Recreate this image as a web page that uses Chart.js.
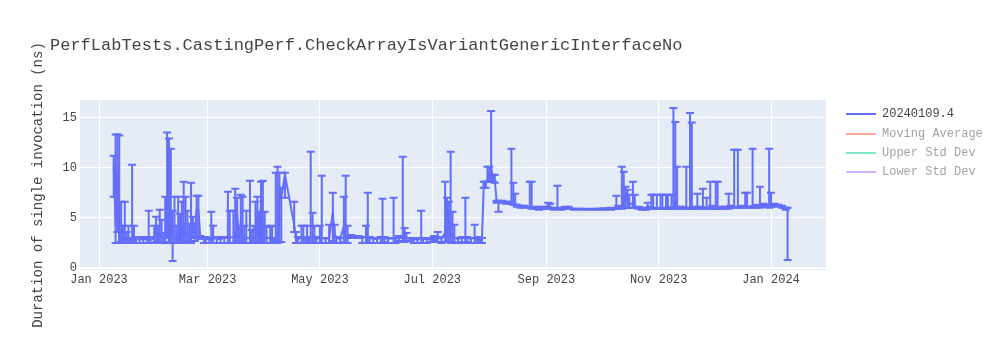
<!DOCTYPE html>
<html>
<head>
<meta charset="utf-8">
<script src="https://cdn.jsdelivr.net/npm/chart.js@4.4.1/dist/chart.umd.min.js"></script>
<style>
  html, body { margin: 0; padding: 0; background: #fff; }
  #wrap { position: relative; width: 1000px; height: 350px; }
  #c { position: absolute; left: 0; top: 0; }
  .mono { font-family: "Courier New", "Liberation Mono", monospace; }
  #title { position: absolute; left: 50px; top: 35px; font-size: 17px; color: #444; white-space: nowrap; line-height: 22px; }
  .lrow { position: absolute; left: 846px; height: 18px; white-space: nowrap; font-size: 12px; line-height: 18px; }
  .lline { position: absolute; left: 0; top: 8px; width: 30px; height: 2px; }
  .ltext { position: absolute; left: 36px; top: 0; }
</style>
</head>
<body>
<div id="wrap">
  <canvas id="c" width="1000" height="350"></canvas>
  <div id="title" class="mono">PerfLabTests.CastingPerf.CheckArrayIsVariantGenericInterfaceNo</div>
  <div id="legend" class="mono"></div>
</div>
<script>
// ---- data ----
const chartTitle = 'PerfLabTests.CastingPerf.CheckArrayIsVariantGenericInterfaceNo';
const yAxisTitle = 'Duration of single invocation (ns)';
const seriesName = '20240109.4';
const legendNames = ['20240109.4', 'Moving Average', 'Upper Std Dev', 'Lower Std Dev'];
const legendColors = ['#636efa', '#EF553B', '#00cc96', '#ab63fa'];
const legendShown = [true, false, false, false];
const xTickDates = ['2023-01-01','2023-03-01','2023-05-01','2023-07-01','2023-09-01','2023-11-01','2024-01-01'];
const xTickLabels = ['Jan 2023','Mar 2023','May 2023','Jul 2023','Sep 2023','Nov 2023','Jan 2024'];
const yTickValues = [0, 5, 10, 15];

const dates = [
 '2023-01-09','2023-01-10','2023-01-11','2023-01-12','2023-01-13','2023-01-14','2023-01-15','2023-01-16','2023-01-17','2023-01-18',
 '2023-01-19','2023-01-20','2023-01-21','2023-01-23','2023-01-25','2023-01-27','2023-01-28','2023-01-29','2023-01-31','2023-02-01',
 '2023-02-02','2023-02-03','2023-02-04','2023-02-05','2023-02-06','2023-02-07','2023-02-08','2023-02-09','2023-02-10','2023-02-11',
 '2023-02-12','2023-02-13','2023-02-14','2023-02-15','2023-02-16','2023-02-17','2023-02-18','2023-02-19','2023-02-20','2023-02-21',
 '2023-02-22','2023-02-23','2023-02-24','2023-02-25','2023-02-27','2023-02-28','2023-03-02','2023-03-03','2023-03-04','2023-03-06',
 '2023-03-08','2023-03-10','2023-03-12','2023-03-13','2023-03-15','2023-03-16','2023-03-17','2023-03-18','2023-03-19','2023-03-20',
 '2023-03-21','2023-03-22','2023-03-24','2023-03-25','2023-03-26','2023-03-27','2023-03-28','2023-03-29','2023-03-30','2023-03-31',
 '2023-04-01','2023-04-02','2023-04-04','2023-04-05','2023-04-06','2023-04-07','2023-04-08','2023-04-09','2023-04-10','2023-04-12',
 '2023-04-17','2023-04-18','2023-04-19','2023-04-21','2023-04-22','2023-04-23','2023-04-24','2023-04-25','2023-04-26','2023-04-27',
 '2023-04-28','2023-04-29','2023-05-01','2023-05-02','2023-05-04','2023-05-06','2023-05-08','2023-05-09','2023-05-10','2023-05-12',
 '2023-05-14','2023-05-15','2023-05-16','2023-05-18','2023-05-20','2023-05-22','2023-05-24','2023-05-26','2023-05-27','2023-05-28',
 '2023-05-30','2023-06-01','2023-06-03','2023-06-04','2023-06-05','2023-06-07','2023-06-10','2023-06-11','2023-06-13','2023-06-15',
 '2023-06-16','2023-06-17','2023-06-19','2023-06-21','2023-06-23','2023-06-25','2023-06-26','2023-06-28','2023-06-30','2023-07-02',
 '2023-07-04','2023-07-06','2023-07-08','2023-07-09','2023-07-10','2023-07-11','2023-07-12','2023-07-13','2023-07-15','2023-07-17',
 '2023-07-19','2023-07-20','2023-07-22','2023-07-24','2023-07-25','2023-07-26','2023-07-27','2023-07-28','2023-07-29','2023-07-30',
 '2023-07-31','2023-08-01','2023-08-02','2023-08-03','2023-08-04','2023-08-05','2023-08-06','2023-08-08','2023-08-10','2023-08-12',
 '2023-08-13','2023-08-14','2023-08-15','2023-08-16','2023-08-18','2023-08-20','2023-08-23','2023-08-24','2023-08-26','2023-08-28',
 '2023-08-30','2023-09-01','2023-09-02','2023-09-03','2023-09-05','2023-09-07','2023-09-09','2023-09-11','2023-09-13','2023-09-16',
 '2023-09-20','2023-09-24','2023-09-28','2023-10-02','2023-10-06','2023-10-09','2023-10-10','2023-10-12','2023-10-13','2023-10-14',
 '2023-10-15','2023-10-16','2023-10-18','2023-10-19','2023-10-21','2023-10-23','2023-10-25','2023-10-26','2023-10-28','2023-10-29',
 '2023-10-31','2023-11-02','2023-11-03','2023-11-05','2023-11-06','2023-11-08','2023-11-09','2023-11-10','2023-11-11','2023-11-12',
 '2023-11-14','2023-11-16','2023-11-18','2023-11-19','2023-11-20','2023-11-22','2023-11-23','2023-11-25','2023-11-27','2023-11-29',
 '2023-11-30','2023-12-02','2023-12-03','2023-12-05','2023-12-07','2023-12-09','2023-12-10','2023-12-12','2023-12-14','2023-12-16',
 '2023-12-18','2023-12-19','2023-12-22','2023-12-24','2023-12-26','2023-12-28','2023-12-29','2023-12-31','2024-01-01','2024-01-03',
 '2024-01-05','2024-01-07','2024-01-09','2024-01-10'
];
const values = [
 10.2,4.2,10.3,3.0,3.5,2.9,3.0,2.8,2.9,2.8,
 3.0,2.9,2.8,2.9,2.8,2.9,3.0,2.8,3.0,3.3,
 2.9,3.4,3.0,2.9,3.2,7.1,3.2,5.7,3.0,3.1,
 2.9,3.1,3.0,3.4,4.2,3.1,3.3,3.6,3.0,4.2,
 3.5,5.8,5.8,3.1,2.9,2.9,2.8,3.0,3.0,2.9,
 2.9,3.0,3.0,3.1,3.0,3.2,5.6,3.0,4.5,3.1,
 2.9,3.0,3.0,3.2,3.0,3.0,5.5,3.0,6.6,3.0,
 3.1,3.0,3.0,2.9,2.8,3.0,3.1,7.9,7.0,9.3,
 4.3,3.0,2.9,3.0,3.0,2.9,3.0,3.0,3.0,3.2,
 3.0,2.9,3.0,3.0,2.9,3.0,5.5,3.4,3.0,2.9,
 4.2,3.0,3.1,3.2,3.1,3.1,3.0,3.1,3.0,3.0,
 2.9,2.9,3.0,3.0,3.0,2.9,3.0,2.9,3.0,3.0,
 3.3,3.0,2.9,2.9,2.8,3.0,2.9,2.9,2.9,3.0,
 3.0,2.9,3.5,5.7,4.8,3.0,3.4,3.0,2.9,3.0,
 3.0,3.0,2.9,3.0,2.8,2.8,2.8,2.8,8.4,8.3,
 8.8,9.5,10.0,9.0,8.7,6.6,6.6,6.6,6.5,6.5,
 6.5,6.4,6.5,6.2,6.1,6.1,6.1,6.0,6.0,5.9,
 6.0,6.0,6.0,6.1,5.9,6.0,5.9,6.0,6.0,5.9,
 5.9,5.85,5.9,5.9,5.9,6.0,6.0,6.1,6.5,7.5,
 7.0,6.3,6.5,6.2,6.0,5.9,5.9,6.2,6.0,6.0,
 6.0,6.0,6.0,6.0,6.0,6.1,6.0,6.5,6.0,6.0,
 6.0,6.0,6.0,6.2,6.0,6.0,6.0,6.1,6.0,6.0,
 6.0,6.0,6.1,6.0,6.0,6.1,6.1,6.1,6.1,6.1,
 6.2,6.1,6.2,6.1,6.2,6.3,6.2,6.2,6.3,6.3,
 6.2,6.1,5.9,5.9
];
const errLow = [
 7.1,2.5,3.6,2.5,2.6,2.5,2.5,2.5,2.5,2.5,
 2.5,2.5,2.5,2.5,2.5,2.5,2.5,2.5,2.5,2.6,
 2.5,2.6,2.5,2.5,2.5,3.0,2.6,2.5,0.7,2.5,
 2.5,2.5,2.5,2.6,2.6,2.5,2.5,2.7,2.5,3.0,
 2.7,3.0,3.0,2.9,2.5,2.5,2.5,2.5,2.5,2.5,
 2.5,2.5,2.5,2.5,2.5,2.5,2.6,2.5,2.6,2.5,
 2.5,2.5,2.5,2.5,2.5,2.5,2.6,2.5,2.6,2.5,
 2.5,2.5,2.5,2.5,2.5,2.5,2.5,2.6,2.6,7.0,
 3.6,2.5,2.5,2.5,2.5,2.5,2.5,2.5,2.5,2.5,
 2.5,2.5,2.5,2.5,2.5,2.5,2.7,2.5,2.5,2.5,
 2.6,2.5,2.5,3.0,3.0,3.0,2.5,2.5,2.5,2.5,
 2.5,2.5,2.5,2.5,2.6,2.5,2.5,2.5,2.7,2.6,
 2.6,2.7,2.7,2.5,2.5,2.5,2.5,2.5,2.6,2.8,
 2.6,2.5,2.6,2.6,2.6,2.5,2.6,2.5,2.5,2.6,
 2.5,2.6,2.5,2.5,2.5,2.5,2.5,2.5,8.0,8.0,
 8.6,8.6,8.6,8.6,8.5,6.5,5.6,6.5,6.4,6.4,
 6.4,6.3,6.3,6.1,6.0,6.0,6.0,5.9,5.9,5.8,
 5.9,5.9,5.9,6.0,5.8,5.9,5.8,5.9,5.9,5.8,
 5.8,5.8,5.8,5.8,5.8,5.9,5.9,5.9,6.0,6.0,
 6.0,6.0,6.0,6.0,5.9,5.8,5.8,5.9,5.9,5.9,
 5.9,5.9,5.9,5.9,5.9,5.9,5.9,6.0,5.9,5.9,
 5.9,5.9,5.9,5.9,5.9,5.9,5.9,5.9,5.9,5.9,
 5.9,5.9,5.9,5.9,5.9,5.9,6.0,6.0,6.0,6.0,
 6.0,6.0,6.0,6.0,6.0,6.1,6.1,6.0,6.1,6.2,
 6.1,6.0,5.8,0.8
];
const errHigh = [
 11.2,13.3,13.3,13.2,6.6,4.2,6.6,3.6,4.2,3.0,
 10.3,4.2,3.1,3.1,3.0,3.1,5.7,3.1,4.2,5.1,
 4.2,5.8,4.8,3.5,7.1,13.5,12.9,11.9,5.7,7.1,
 4.2,7.1,5.4,6.6,8.6,7.1,5.7,4.4,8.5,5.1,
 4.4,7.2,7.2,3.2,3.1,3.1,3.0,5.6,4.2,3.1,
 3.0,3.1,7.6,5.7,5.7,7.9,7.0,3.5,7.3,7.1,
 4.2,5.7,8.7,3.8,4.2,6.6,7.1,5.6,8.6,8.7,
 5.6,4.2,4.1,4.2,3.0,9.5,10.1,9.5,8.0,9.5,
 6.6,3.6,3.1,4.2,4.2,3.1,4.2,3.1,11.6,5.5,
 4.2,3.1,4.2,9.2,3.0,4.3,7.5,4.3,3.1,3.0,
 7.1,9.2,4.2,3.3,3.2,3.2,3.1,4.2,7.5,3.1,
 3.0,3.0,3.1,6.9,3.1,3.0,7.0,3.0,3.2,11.1,
 4.0,3.5,3.0,3.0,3.0,5.7,3.0,3.0,3.0,3.2,
 3.6,3.1,8.6,7.0,6.6,11.6,5.6,4.3,3.0,3.1,
 7.0,3.1,3.0,4.3,3.0,3.1,3.0,3.0,8.6,8.6,
 10.1,10.1,15.65,9.3,9.3,6.7,6.7,6.7,6.6,6.6,
 11.9,8.5,7.4,6.3,6.2,6.2,8.6,8.6,6.1,6.0,
 6.1,6.1,6.5,6.4,6.0,8.2,6.0,6.1,6.1,5.9,
 5.9,5.9,5.9,5.95,6.0,7.2,6.2,10.1,9.6,8.1,
 7.8,7.3,8.6,7.3,6.1,6.0,6.0,6.5,7.3,7.3,
 7.3,7.3,7.3,7.3,7.3,7.3,15.95,14.55,10.1,6.1,
 6.1,10.1,15.45,14.5,6.1,7.4,6.1,7.9,7.0,8.6,
 6.2,8.6,8.6,6.1,6.1,7.4,6.2,11.8,11.8,6.2,
 7.5,7.5,11.9,6.3,8.1,6.4,6.3,11.9,7.5,6.4,
 6.3,6.2,6.0,6.0
];

// ---- build ----
const xs = dates.map(d => Date.parse(d));
const points = xs.map((x, i) => ({ x: x, y: values[i] }));
const xTicks = xTickDates.map(d => Date.parse(d));
const dayMs = 86400000;
const FONT = '"Courier New", "Liberation Mono", monospace';
const LINE = '#636efa';

const plotBg = {
  id: 'plotBg',
  beforeDraw(chart) {
    const { ctx, chartArea: a } = chart;
    ctx.save();
    ctx.fillStyle = '#E5ECF6';
    ctx.fillRect(a.left, a.top, a.right - a.left, a.bottom - a.top);
    ctx.restore();
  }
};

const errorBars = {
  id: 'errorBars',
  beforeDatasetsDraw(chart) {
    const { ctx, chartArea: a, scales: { x, y } } = chart;
    ctx.save();
    ctx.beginPath();
    ctx.rect(a.left, a.top, a.right - a.left, a.bottom - a.top);
    ctx.clip();
    ctx.strokeStyle = LINE;
    ctx.lineWidth = 2;
    const w = 4;
    for (let i = 0; i < xs.length; i++) {
      const px = x.getPixelForValue(xs[i]);
      const pl = y.getPixelForValue(errLow[i]);
      const ph = y.getPixelForValue(errHigh[i]);
      ctx.beginPath();
      ctx.moveTo(px, pl); ctx.lineTo(px, ph);
      ctx.moveTo(px - w, pl); ctx.lineTo(px + w, pl);
      ctx.moveTo(px - w, ph); ctx.lineTo(px + w, ph);
      ctx.stroke();
    }
    ctx.restore();
  }
};

new Chart(document.getElementById('c'), {
  type: 'line',
  data: {
    datasets: [{
      label: seriesName,
      data: points,
      borderColor: LINE,
      backgroundColor: LINE,
      borderWidth: 2,
      pointRadius: 0,
      tension: 0,
      fill: false
    }]
  },
  options: {
    responsive: false,
    animation: false,
    devicePixelRatio: 1,
    layout: { padding: { top: 100, right: 174, left: 0, bottom: 0 } },
    plugins: {
      legend: { display: false },
      title: { display: false },
      tooltip: { enabled: false }
    },
    scales: {
      x: {
        type: 'linear',
        min: Date.parse('2023-01-01') - 10.32 * dayMs,
        max: Date.parse('2024-01-01') + 29.87 * dayMs,
        afterBuildTicks: (s) => { s.ticks = xTicks.map(v => ({ value: v })); },
        afterFit: (s) => { s.height = 80; },
        ticks: {
          autoSkip: false, maxRotation: 0, padding: 3,
          color: '#444', font: { family: FONT, size: 12 },
          callback: (v) => { const i = xTicks.indexOf(v); return i >= 0 ? xTickLabels[i] : ''; }
        },
        grid: { color: '#ffffff', lineWidth: 1, drawTicks: false },
        border: { display: false }
      },
      y: {
        type: 'linear',
        min: -0.2,
        max: 16.75,
        afterBuildTicks: (s) => { s.ticks = yTickValues.map(v => ({ value: v })); },
        afterFit: (s) => { s.width = 80; },
        ticks: {
          padding: 3, color: '#444', font: { family: FONT, size: 12 },
          callback: (v) => String(v)
        },
        grid: {
          color: '#ffffff',
          lineWidth: (c) => (c.tick && c.tick.value === 0 ? 2 : 1),
          drawTicks: false
        },
        border: { display: false },
        title: {
          display: true, text: yAxisTitle, color: '#444',
          font: { family: FONT, size: 14 },
          padding: { top: 30, bottom: 0 }
        }
      }
    }
  },
  plugins: [plotBg, errorBars]
});

// ---- legend (HTML text) ----
const legendEl = document.getElementById('legend');
const rowCenters = [114, 133.5, 153, 172];
legendNames.forEach((name, i) => {
  const row = document.createElement('div');
  row.className = 'lrow';
  row.style.top = (rowCenters[i] - 9) + 'px';
  row.style.opacity = legendShown[i] ? '1' : '0.5';
  const ln = document.createElement('div');
  ln.className = 'lline';
  ln.style.background = legendColors[i];
  const tx = document.createElement('div');
  tx.className = 'ltext';
  tx.style.color = '#444';
  tx.textContent = name;
  row.appendChild(ln); row.appendChild(tx);
  legendEl.appendChild(row);
});
</script>
</body>
</html>
